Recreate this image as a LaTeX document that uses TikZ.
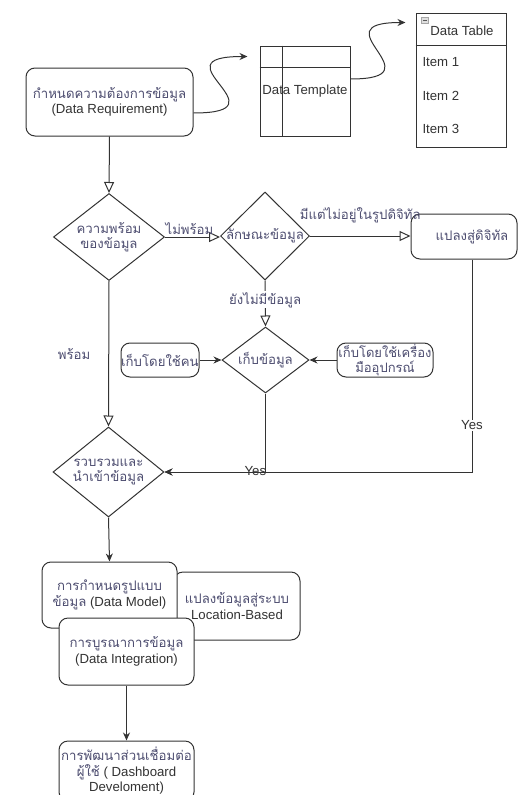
\documentclass[tikz,border=0pt]{standalone}
\usepackage{fontspec}
\setmainfont{Liberation Sans}
\newfontfamily\thaifont[Script=Thai]{Loma}
\usetikzlibrary{shapes.geometric,arrows.meta,calc}
\definecolor{linegrey}{HTML}{333333}
\definecolor{thaigrey}{HTML}{4D4D70}
\newcommand{\tht}[1]{{\thaifont\color{thaigrey}#1}}

\tikzset{
  proc/.style={draw=linegrey, line width=1pt, rounded corners=9pt, fill=white, align=center, inner sep=0pt},
  plainbox/.style={draw=linegrey, line width=1pt, inner sep=0pt},
  decision/.style={diamond, draw=linegrey, line width=1pt, inner sep=0pt, fill=white},
  flow/.style={draw=linegrey, line width=1pt},
  openarrow/.style={flow, -{Triangle[open,length=11pt,width=10pt]}},
  fillarrow/.style={flow, -{Stealth[length=8pt,width=7pt]}},
  lbl/.style={align=center, inner sep=1pt},
}

\begin{document}
\begin{tikzpicture}[x=1pt,y=-1pt, font=\fontsize{13.2}{15.5}\selectfont, text=linegrey]
\useasboundingbox (0,0) rectangle (524,795);

% top row
\node[proc, minimum width=167pt, minimum height=68pt] (req) at (109.5,102) {\tht{กำหนดความต้องการข้อมูล}\\(Data Requirement)};

\node[plainbox, minimum width=90pt, minimum height=90pt] (tmpl) at (305,91) {Data Template};
\draw[flow] ([xshift=23pt]tmpl.north west) -- ([xshift=23pt]tmpl.south west);
\draw[flow] ([yshift=-22pt]tmpl.north west) -- ([yshift=-22pt]tmpl.north east);

\node[plainbox, minimum width=90pt, minimum height=134pt] (tbl) at (461,80) {};
\draw[flow] ([yshift=-33pt]tbl.north west) -- ([yshift=-33pt]tbl.north east);
\node (tblhead) at (462,31) {Data Table};
\draw[fill=gray!25, draw=gray!70, line width=0.4pt] (421,17) rectangle (428,23);
\draw[gray!70!black, line width=0.5pt] (422.5,20) -- (426.5,20);
\foreach \i/\y in {1/62,2/96,3/129} {
  \node[anchor=west] (item\i) at (419,\y) {Item \i};
}

\coordinate (tmplin) at ([shift={(-12pt,-11pt)}]tmpl.north west);
\coordinate (tblin) at ([shift={(-10pt,-10pt)}]tbl.north west);
\draw[fillarrow] ([yshift=-11pt]req.east) .. controls +(95,0) and +(-95,0) .. (tmplin);
\draw[fillarrow] ([yshift=12pt]tmpl.east) .. controls +(90,0) and +(-90,0) .. (tblin);

% decisions
\node[decision, minimum width=111pt, minimum height=87pt] (ready) at (109,237) {};
\node[lbl] (readytext) at (ready) {\tht{ความพร้อม}\\\tht{ของข้อมูล}};

\node[decision, minimum width=89pt, minimum height=88pt] (kind) at (265,236) {};
\node[lbl] (kindtext) at (kind) {\tht{ลักษณะข้อมูล}};

\node[proc, minimum width=106pt, minimum height=45pt] (digital) at (464,236.5) {};
\node[lbl] (digitaltext) at (472,237) {\tht{แปลงสู่ดิจิทัล}};
\coordinate (dout) at (digitaltext |- digital.south);

\node[decision, minimum width=87pt, minimum height=66pt] (collect) at (265.5,360) {};
\node[lbl] (collecttext) at (collect) {\tht{เก็บข้อมูล}};

\node[proc, minimum width=78pt, minimum height=34pt] (byhand) at (160,360) {\tht{เก็บโดยใช้คน}};
\node[proc, minimum width=96pt, minimum height=34pt, font=\fontsize{13}{14.5}\selectfont] (bytool) at (385,360) {\tht{เก็บโดยใช้เครื่อง}\\\tht{มืออุปกรณ์}};

\node[decision, minimum width=111pt, minimum height=90pt] (gather) at (108.5,472) {};
\node[lbl] (gathertext) at (gather) {\tht{รวบรวมและ}\\\tht{นำเข้าข้อมูล}};

% lower boxes
\node[proc, minimum width=126pt, minimum height=68pt] (locbox) at (237,606) {\tht{แปลงข้อมูลสู่ระบบ}\\Location-Based};
\node[proc, minimum width=135pt, minimum height=66pt] (model) at (109.5,595) {\tht{การกำหนดรูปแบบ}\\\tht{ข้อมูล} (Data Model)};
\node[proc, minimum width=135pt, minimum height=67pt] (integ) at (126.5,651.5) {\tht{การบูรณาการข้อมูล}\\(Data Integration)};
\node[proc, minimum width=135pt, minimum height=60pt] (dash) at (126.5,771) {\tht{การพัฒนาส่วนเชื่อมต่อ}\\\tht{ผู้ใช้} ( Dashboard\\Develoment)};

% connectors
\draw[openarrow] (req.south) -- (ready.north);
\draw[openarrow] (ready.east) -- node[lbl, above=1pt, xshift=-3pt] (notready) {\tht{ไม่พร้อม}} (ready.east -| kind.west);
\draw[openarrow] (kind.east) -- node[lbl, above=12pt] (notdigital) {\tht{มีแต่ไม่อยู่ในรูปดิจิทัล}} (kind.east -| digital.west);
\draw[openarrow] (kind.south) -- node[lbl, fill=white, pos=0.42] (nodata) {\tht{ยังไม่มีข้อมูล}} (collect.north);
\draw[fillarrow] (byhand.east) -- (collect.west);
\draw[fillarrow] (bytool.west) -- (collect.east);
\draw[openarrow] (ready.south) -- node[lbl, left=17pt] (isready) {\tht{พร้อม}} (gather.north);
\draw[fillarrow] (collect.south) |- node[lbl, pos=0.55, yshift=1pt] (yesleft) {Yes} (gather.east);
\draw[fillarrow] (dout) |- node[lbl, pos=0.39, fill=white] (yesright) {Yes} (gather.east);
\draw[fillarrow] (gather.south) -- (model.north);
\draw[fillarrow] (integ.south) -- (dash.north);
\end{tikzpicture}
\end{document}
